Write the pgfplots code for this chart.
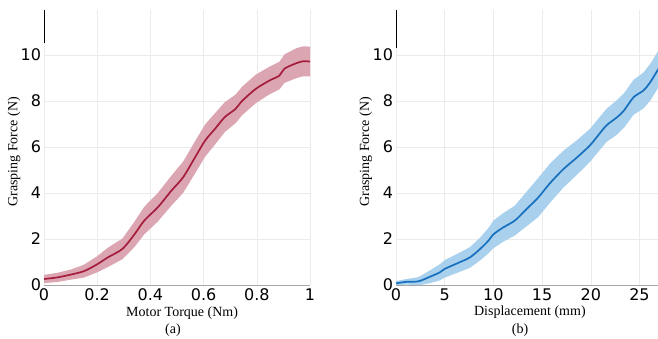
\documentclass[border=0pt]{standalone}
\usepackage{pgfplots}
\pgfplotsset{compat=1.18}
\usepackage{pgfplotstable}
\usepgfplotslibrary{fillbetween}
\usepackage{fontspec}
\setmainfont{Liberation Serif}
\newfontfamily\tickfont{DejaVu Sans}
\definecolor{redline}{HTML}{A51D3C}
\definecolor{redband}{HTML}{DCA5B2}
\definecolor{blueline}{HTML}{1670BE}
\definecolor{blueband}{HTML}{A9D0EC}
\definecolor{gridc}{HTML}{EBEBEB}

\pgfplotstableread{
x m lo hi
0.00 0.26 0.08 0.44
0.05 0.33 0.13 0.53
0.10 0.45 0.23 0.67
0.15 0.60 0.32 0.88
0.20 0.90 0.55 1.25
0.24 1.20 0.78 1.62
0.295 1.57 1.12 2.02
0.34 2.20 1.65 2.75
0.377 2.80 2.20 3.40
0.428 3.38 2.76 4.00
0.479 4.10 3.45 4.75
0.523 4.68 4.00 5.36
0.568 5.55 4.85 6.25
0.606 6.28 5.58 6.98
0.644 6.80 6.12 7.48
0.68 7.30 6.65 7.95
0.72 7.65 7.03 8.27
0.745 8.00 7.38 8.62
0.796 8.52 7.90 9.14
0.847 8.88 8.28 9.48
0.885 9.10 8.50 9.70
0.904 9.40 8.78 10.02
0.949 9.64 8.99 10.29
0.974 9.72 9.07 10.37
1.00 9.71 9.06 10.36
}\torque

\pgfplotstableread{
x m lo hi
0 0.07 -0.03 0.17
1.1 0.14 0.02 0.26
2.3 0.16 -0.02 0.34
3.5 0.36 0.08 0.64
4.5 0.55 0.20 0.90
5 0.70 0.32 1.08
6.6 1.00 0.58 1.42
7.6 1.20 0.75 1.65
8.65 1.57 1.07 2.07
9.5 1.93 1.38 2.48
10 2.20 1.60 2.80
11 2.50 1.88 3.12
12.2 2.80 2.15 3.45
13.4 3.30 2.55 4.05
14.6 3.80 2.95 4.65
15.8 4.42 3.57 5.27
17.2 5.04 4.24 5.84
18.6 5.55 4.80 6.30
19.9 6.06 5.34 6.78
20.6 6.42 5.70 7.14
21.6 6.93 6.21 7.65
22.7 7.29 6.54 8.04
23.4 7.58 6.83 8.33
24.4 8.16 7.40 8.92
25.4 8.45 7.67 9.23
26.1 8.81 8.01 9.61
26.95 9.39 8.59 10.19
27.2 9.50 8.70 10.30
}\disp

\pgfplotsset{
  myaxis/.style={
    scale only axis,
    height=275pt,
    ymin=0, ymax=11.95,
    ytick={0,2,4,6,8,10},
    axis x line*=bottom,
    axis y line*=left,
    x axis line style={draw=gray!70, -},
    y axis line style={draw=none, -},
    grid=major,
    major grid style={draw=gridc, line width=0.6pt},
    tick style={draw=none},
    /pgf/number format/assume math mode=true,
    ticklabel style={font=\tickfont\fontsize{16}{16}\selectfont},
    xticklabel style={yshift=-0.5pt},
    yticklabel style={xshift=0.5pt, yshift=0.5pt},
    label style={font=\fontsize{14}{14}\selectfont},
    clip mode=individual,
  }
}

\begin{document}
\begin{tikzpicture}
\begin{axis}[myaxis,
  at={(44pt,54pt)}, anchor=south west,
  width=266pt,
  xmin=0, xmax=1,
  xtick={0,0.2,0.4,0.6,0.8,1},
  xlabel={Motor Torque (Nm)},
  xlabel style={at={(axis description cs:0.519,-0.102)}, anchor=center},
  ylabel={Grasping Force (N)},
  ylabel style={at={(axis description cs:-0.113,0.484)}, anchor=center},
]
\addplot[name path=U, draw=none, forget plot] table[x=x, y=hi] {\torque};
\addplot[name path=L, draw=none, forget plot] table[x=x, y=lo] {\torque};
\addplot[redband, draw=none] fill between[of=U and L];
\addplot[redline, line width=1.7pt, smooth] table[x=x, y=m] {\torque};
\end{axis}
\draw[black, line width=1pt] (44pt,329pt) -- (44pt,296pt);
\node[font=\fontsize{14}{14}\selectfont] at (173pt,9pt) {(a)};

\begin{axis}[myaxis,
  at={(396pt,54pt)}, anchor=south west,
  width=262pt,
  xmin=0, xmax=26.9,
  xtick={0,5,10,15,20,25},
  xlabel={Displacement (mm)},
  xlabel style={at={(axis description cs:0.511,-0.1)}, anchor=center},
  ylabel={Grasping Force (N)},
  ylabel style={at={(axis description cs:-0.115,0.484)}, anchor=center},
]
\addplot[name path=U, draw=none, forget plot] table[x=x, y=hi] {\disp};
\addplot[name path=L, draw=none, forget plot] table[x=x, y=lo] {\disp};
\addplot[blueband, draw=none] fill between[of=U and L];
\addplot[blueline, line width=1.7pt, smooth] table[x=x, y=m] {\disp};
\end{axis}
\draw[black, line width=1pt] (396pt,329pt) -- (396pt,291pt);
\node[font=\fontsize{14}{14}\selectfont] at (520pt,9pt) {(b)};
\pgfresetboundingbox
\useasboundingbox (0pt,0pt) rectangle (658pt,339pt);
\end{tikzpicture}
\end{document}
